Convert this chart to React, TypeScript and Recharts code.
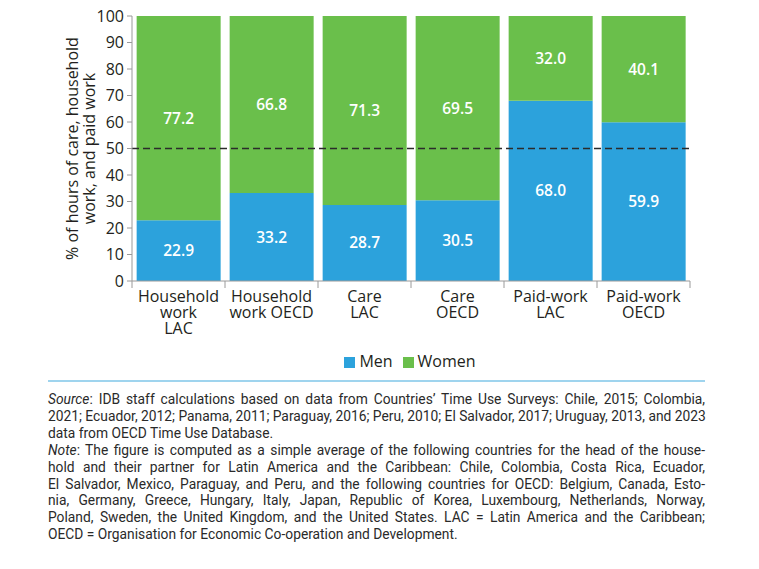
import React from "react";
import {
  BarChart,
  Bar,
  XAxis,
  YAxis,
  Legend,
  LabelList,
  ReferenceLine,
} from "recharts";

// categories and shares (% of hours)
const categories = [
  "Household work LAC",
  "Household work OECD",
  "Care LAC",
  "Care OECD",
  "Paid-work LAC",
  "Paid-work OECD",
];
const categoryLines = [
  ["Household", "work", "LAC"],
  ["Household", "work OECD"],
  ["Care", "LAC"],
  ["Care", "OECD"],
  ["Paid-work", "LAC"],
  ["Paid-work", "OECD"],
];
const men = [22.9, 33.2, 28.7, 30.5, 68.0, 59.9];
const women = [77.2, 66.8, 71.3, 69.5, 32.0, 40.1];
const yTicks = [0, 10, 20, 30, 40, 50, 60, 70, 80, 90, 100];

const data = categories.map((c, i) => ({
  name: c,
  men: men[i],
  women: women[i],
}));

const BLUE = "#2ca2dc";
const GREEN = "#6abf4b";
const TEXT = "#231f20";
const AXIS = "#9a9a9a";
const FONT = "'Open Sans', sans-serif";

const CHART_W = 759;
const CHART_H = 375;
const MARGIN = { top: 16, right: 69, bottom: 5, left: 82 };
const Y_AXIS_W = 50;
const PLOT_W = CHART_W - MARGIN.left - Y_AXIS_W - MARGIN.right;
const BAND = PLOT_W / categories.length;

function CategoryTick(props: any) {
  const { x, y, payload, index } = props;
  const lines: string[] = categoryLines[payload.index ?? index] || [];
  const top = y - 8;
  return (
    <g>
      <line x1={x - BAND / 2} x2={x - BAND / 2} y1={top} y2={top + 7} stroke={AXIS} />
      {index === categories.length - 1 && (
        <line x1={x + BAND / 2} x2={x + BAND / 2} y1={top} y2={top + 7} stroke={AXIS} />
      )}
      {lines.map((l, i) => (
        <text
          key={i}
          x={x}
          y={top + 21 + i * 16}
          textAnchor="middle"
          fill={TEXT}
          fontSize={16}
          fontFamily={FONT}
        >
          {l}
        </text>
      ))}
    </g>
  );
}

function YTitle(props: any) {
  const vb = props.viewBox || {};
  const cy = (vb.y ?? 16) + (vb.height ?? 265) / 2;
  return (
    <g>
      <text
        transform={`translate(78, ${cy}) rotate(-90)`}
        textAnchor="middle"
        fill={TEXT}
        fontSize={16}
        fontFamily={FONT}
      >
        % of hours of care, household
      </text>
      <text
        transform={`translate(95, ${cy}) rotate(-90)`}
        textAnchor="middle"
        fill={TEXT}
        fontSize={16}
        fontFamily={FONT}
      >
        work, and paid work
      </text>
    </g>
  );
}

const noteLines: { text: React.ReactNode; justify: boolean }[] = [
  {
    text: (
      <>
        <i>Source</i>: IDB staff calculations based on data from Countries’ Time Use Surveys: Chile, 2015; Colombia,
      </>
    ),
    justify: true,
  },
  {
    text: "2021; Ecuador, 2012; Panama, 2011; Paraguay, 2016; Peru, 2010; El Salvador, 2017; Uruguay, 2013, and 2023",
    justify: true,
  },
  { text: "data from OECD Time Use Database.", justify: false },
  {
    text: (
      <>
        <i>Note</i>: The figure is computed as a simple average of the following countries for the head of the house-
      </>
    ),
    justify: true,
  },
  {
    text: "hold and their partner for Latin America and the Caribbean: Chile, Colombia, Costa Rica,  Ecuador,",
    justify: true,
  },
  {
    text: "El Salvador, Mexico, Paraguay, and Peru, and the following countries for OECD: Belgium, Canada, Esto-",
    justify: true,
  },
  {
    text: "nia, Germany, Greece, Hungary, Italy, Japan, Republic of Korea, Luxembourg, Netherlands, Norway,",
    justify: true,
  },
  {
    text: "Poland, Sweden, the United Kingdom, and the United States. LAC = Latin America and the Caribbean;",
    justify: true,
  },
  { text: "OECD = Organisation for Economic Co-operation and Development.", justify: false },
];

export default function App() {
  return (
    <div
      style={{
        position: "absolute",
        left: 0,
        top: 0,
        width: 759,
        height: 569,
        background: "#fff",
      }}
    >
      <BarChart
        width={CHART_W}
        height={CHART_H}
        data={data}
        margin={MARGIN}
        barCategoryGap="5%"
      >
        <XAxis
          dataKey="name"
          interval={0}
          height={69}
          tickLine={false}
          axisLine={{ stroke: AXIS }}
          tick={<CategoryTick />}
        />
        <YAxis
          width={Y_AXIS_W}
          domain={[0, 100]}
          ticks={yTicks}
          allowDataOverflow
          tickSize={5}
          tickMargin={3}
          tickLine={{ stroke: AXIS }}
          axisLine={{ stroke: AXIS }}
          tick={{ fill: TEXT, fontSize: 16, fontFamily: FONT }}
          label={{ content: <YTitle /> }}
        />
        <Legend
          verticalAlign="bottom"
          align="center"
          iconType="square"
          iconSize={11}
          height={20}
          wrapperStyle={{
            fontFamily: FONT,
            fontSize: 16,
            left: MARGIN.left + Y_AXIS_W + 4,
            width: PLOT_W,
          }}
          formatter={(v: string) => <span style={{ color: TEXT }}>{v}</span>}
        />
        <Bar dataKey="men" name="Men" stackId="a" fill={BLUE} isAnimationActive={false}>
          <LabelList
            dataKey="men"
            position="center"
            fill="#fff"
            fontSize={15.5}
            fontWeight={600}
            fontFamily={FONT}
            formatter={(v: any) => Number(v).toFixed(1)}
          />
        </Bar>
        <Bar dataKey="women" name="Women" stackId="a" fill={GREEN} isAnimationActive={false}>
          <LabelList
            dataKey="women"
            position="center"
            fill="#fff"
            fontSize={15.5}
            fontWeight={600}
            fontFamily={FONT}
            formatter={(v: any) => Number(v).toFixed(1)}
          />
        </Bar>
        <ReferenceLine y={50} stroke="#2b2b2b" strokeWidth={1.5} strokeDasharray="7 4" />
      </BarChart>
      <div
        style={{
          position: "absolute",
          left: 48,
          top: 380,
          width: 657,
          height: 2,
          background: "#9fd4ee",
        }}
      />
      <div
        style={{
          position: "absolute",
          left: 48,
          top: 391,
          width: 657,
          fontFamily: "Roboto, sans-serif",
          fontSize: 13.8,
          lineHeight: "16.9px",
          color: "#2a2a2a",
        }}
      >
        {noteLines.map((l, i) => (
          <div
            key={i}
            style={{
              textAlign: l.justify ? "justify" : "left",
              textAlignLast: l.justify ? "justify" : "left",
              whiteSpace: "nowrap",
            }}
          >
            {l.text}
          </div>
        ))}
      </div>
    </div>
  );
}
